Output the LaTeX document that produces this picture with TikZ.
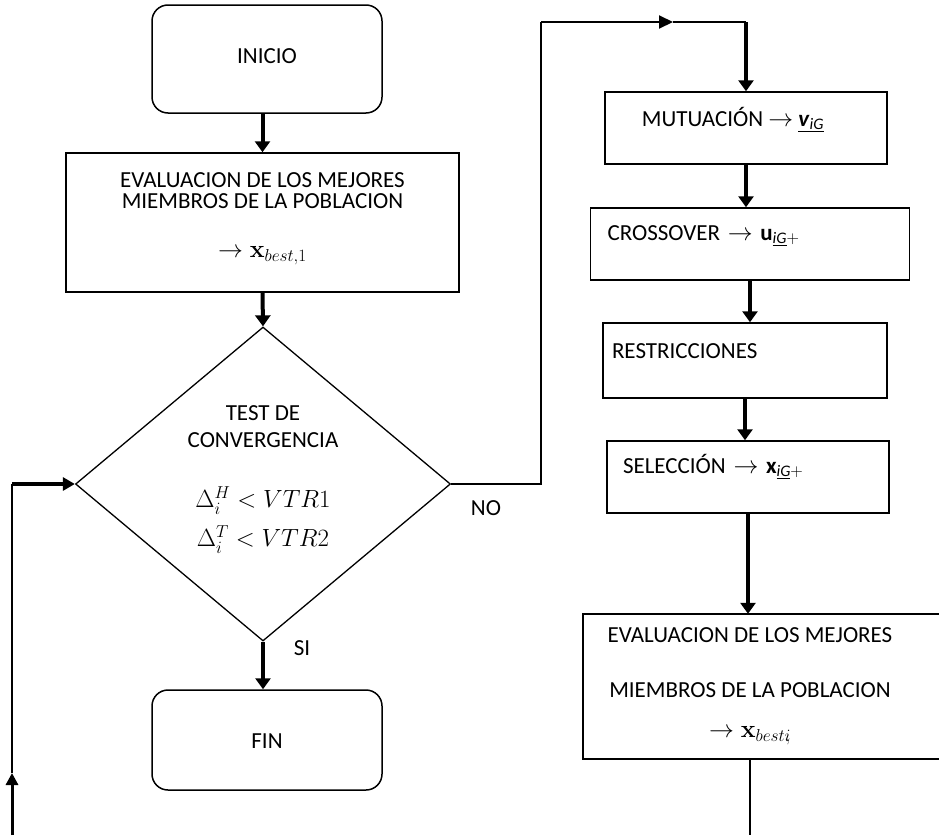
\documentclass[tikz,border=0pt]{standalone}
\usepackage[no-math]{fontspec}
\setmainfont{Carlito}
\usetikzlibrary{shapes.geometric,arrows.meta}

\begin{document}
\begin{tikzpicture}[x=1pt,y=-1pt,
    every node/.style={font=\fontsize{23}{21}\selectfont, inner sep=0pt},
    startstop/.style={draw, line width=1.5pt, rounded corners=16pt, minimum width=230pt, text height=16pt},
    procbox/.style={draw, line width=1.5pt},
    leftbox/.style={procbox, align=left},
    decision/.style={draw, diamond, line width=1.3pt, aspect=1.19, minimum width=375pt, minimum height=314pt, align=center},
    flow/.style={line width=4pt, -{Triangle[width=15pt,length=11pt]}},
    link/.style={line width=1.6pt},
    toplink/.style={line width=2pt}]
  \useasboundingbox (0,0) rectangle (939,835);
  \clip (0,0) rectangle (939,835);

  \node[startstop, minimum height=108pt, text depth=8pt] (inicio) at (267,59) {INICIO};
  \node[procbox, minimum width=393pt, minimum height=139pt, align=center] (eval1) at (262.5,222.5)
    {EVALUACION DE LOS MEJORES\\MIEMBROS DE LA POBLACION\\[28pt]{\fontsize{24}{21}\selectfont$\rightarrow \mathbf{x}_{best,1}$}\rule[-14pt]{0pt}{0pt}};
  \node[decision] (test) at (263,484)
    {TEST DE\\[6pt]CONVERGENCIA\\[39pt]{\fontsize{26}{21}\selectfont$\Delta_{i}^{H} < VTR1$}\\[11pt]{\fontsize{26}{21}\selectfont$\Delta_{i}^{T} < VTR2$}\rule[-15pt]{0pt}{0pt}};
  \node[startstop, minimum height=100pt, text depth=0pt] (fin) at (267,740) {FIN};

  \node[procbox, minimum width=282pt, minimum height=72pt, text height=16pt, text depth=20pt] (mut) at (746,128)
    {MUTUACIÓN $\rightarrow$ \underline{\textbf{\textit{v}}\textsubscript{\textit{iG}}}\rule{26pt}{0pt}};
  \node[leftbox, text width=285pt, inner xsep=17pt, minimum height=72pt, text height=16pt, text depth=24pt] (cross) at (750,244)
    {CROSSOVER $\rightarrow$ \textbf{u}\textsubscript{\underline{\textit{iG}}$+$}};
  \node[leftbox, text width=266pt, inner xsep=9pt, minimum height=75pt, text height=16pt, text depth=21pt] (restr) at (745,360.5)
    {RESTRICCIONES};
  \node[leftbox, text width=250pt, inner xsep=16pt, minimum height=72pt, text height=16pt, text depth=24pt] (sel) at (748,477)
    {SELECCIÓN $\rightarrow$ \textbf{x}\textsubscript{\underline{\textit{iG}}$+$}};
  \node[align=center, minimum width=334pt, minimum height=145pt] (eval2) at (750,686.5)
    {EVALUACION DE LOS MEJORES\\[34pt]MIEMBROS DE LA POBLACION\\[19pt]{\fontsize{24}{21}\selectfont$\rightarrow \mathbf{x}_{besti\mkern-5mu,}$}};
  \draw[link] (eval2.north west) ++(400,0) -- (eval2.north west) -- (eval2.south west) -- ++(400,0);

  \node (nolabel) at (486,508) {NO};
  \node (silabel) at (302,648) {SI};

  \coordinate (uptop) at (541,22);
  \coordinate (arrowtop) at (673,22);
  \coordinate (eval2out) at (750,835);
  \coordinate (loopin) at (12,835);
  \coordinate (looptip) at (12,773);
  \coordinate (loopturn) at (12,484);

  \draw[flow] (eval1.north |- inicio.south) -- (eval1.north);
  \draw[flow] (eval1.south) -- (test.north);
  \draw[flow] (test.south) -- (test.south |- fin.north);
  \draw[flow] (mut.south) -- (mut.south |- cross.north);
  \draw[flow] (cross.south) -- (cross.south |- restr.north);
  \draw[flow] (restr.south) -- (restr.south |- sel.north);
  \draw[flow] (sel.south) -- (sel.south |- eval2.north);
  \draw[link] (eval2.south) -- (eval2out);

  \draw[link] (test.east) -| (uptop);
  \draw[toplink, -{Triangle[width=13pt,length=14pt]}] (uptop) -- (arrowtop);
  \draw[toplink] (arrowtop) -- (mut.north |- uptop);
  \draw[flow] (mut.north |- uptop) -- (mut.north);

  \draw[flow, line width=3pt, -{Triangle[width=12pt,length=12pt]}] (loopin) -- (looptip);
  \draw[link] (looptip) -- (loopturn);
  \draw[flow, -{Triangle[width=13pt,length=12pt]}] (loopturn) -- (test.west);
\end{tikzpicture}
\end{document}
